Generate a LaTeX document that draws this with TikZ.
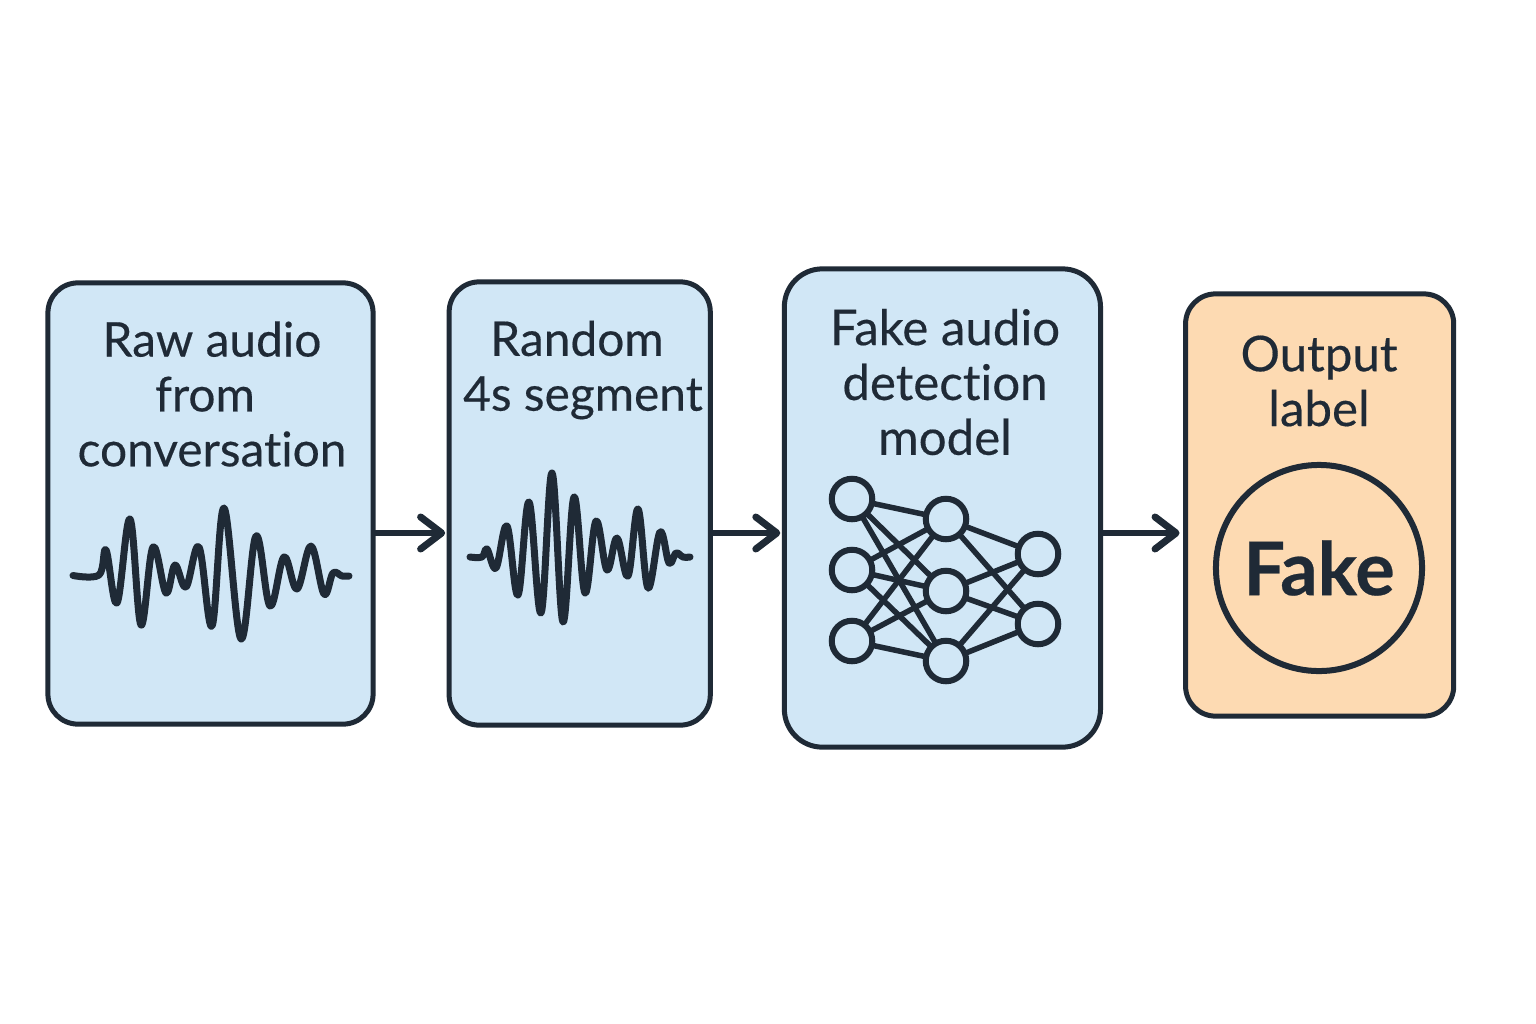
\documentclass[tikz,border=0pt]{standalone}
\usepackage{fontspec}
\setmainfont{Lato}[FakeBold=0.35, Ligatures=NoCommon]
\usepackage{tikz}
\definecolor{inkdark}{RGB}{31, 42, 54}
\definecolor{boxblue}{RGB}{209, 231, 246}
\definecolor{boxorange}{RGB}{253, 218, 178}
\usetikzlibrary{arrows.meta, positioning, calc}

\begin{document}
\begin{tikzpicture}[
    x=0.01cm, y=-0.01cm,
    box/.style={rectangle, draw=inkdark, fill=boxblue, line width=0.5mm,
                outer sep=0pt, rounded corners=0.3cm},
    label/.style={font=\fontsize{13.6pt}{15.6pt}\selectfont, text=inkdark, align=center, inner sep=0pt},
    arrow/.style={-{Straight Barb[round, length=2.1mm, width=3.2mm, line width=0.7mm]}, line width=0.55mm, draw=inkdark},
    wave/.style={inkdark, line width=0.7mm, line cap=round, line join=round, smooth, tension=0.62},
    unit/.style={circle, draw=inkdark, line width=0.6mm, minimum size=0.405cm, inner sep=0pt, outer sep=0pt},
    link/.style={draw=inkdark, line width=0.55mm}
]
    \useasboundingbox (0,0) rectangle (1536,1024);
    \fill[white] (0,0) rectangle (1536,1024);

    \node[box, minimum width=3.25cm, minimum height=4.41cm] (raw) at (210.5,503.5) {};
    \node[box, minimum width=2.61cm, minimum height=4.43cm, right=0.76cm of raw] (segment) {};
    \node[box, minimum width=3.16cm, minimum height=4.78cm, rounded corners=0.38cm, right=0.74cm of segment, yshift=-0.045cm] (model) {};
    \node[box, fill=boxorange, minimum width=2.68cm, minimum height=4.22cm, right=0.85cm of model, yshift=0.03cm] (output) {};

    \node[label] (rawtext) at (212,394) {Raw audio\\from\kern0.14cm\\conversation};
    \node[label] (segtext) at (583,370) {Random\kern0.12cm\\4s segment};
    \node[label, font=\fontsize{14pt}{15.6pt}\selectfont] (modeltext) at (945,382) {Fake audio\\detection\\model};
    \node[label, font=\fontsize{14pt}{15.6pt}\selectfont] (outtext) at (1319,381) {Output\\label};

    \coordinate (arrowline) at (0,533);
    \draw[arrow, shorten >=0.04cm] (raw.east |- arrowline) -- (segment.west |- arrowline);
    \draw[arrow, shorten >=0.04cm] (segment.east |- arrowline) -- (model.west |- arrowline);
    \draw[arrow, shorten >=0.06cm] (model.east |- arrowline) -- (output.west |- arrowline);

    % waveforms
    \draw[wave] plot coordinates {(73,575.5) (99,575) (106,550) (117,603) (130,519) (141,625) (153,547) (166,593) (175,565) (186,587) (199,547) (212,626) (224,508) (241,639) (256,536) (270,606) (284,557) (297,589) (311,546) (324,594) (333,573) (342,576) (349,576)};
    \draw[wave] plot coordinates {(470,557) (482,557) (487,549) (496,568) (507,526) (518,595) (529,502) (541,613) (552,473) (563,622) (574,497) (585,593) (596,521) (607,570) (617,538) (628,576) (638,509) (648,588) (660,532) (669,563) (676,553) (683,557) (690,557)};

    % network
    \node[unit] (a1) at (852,499) {};
    \node[unit] (a2) at (852,570) {};
    \node[unit] (a3) at (852,641) {};
    \node[unit] (b1) at (946,519) {};
    \node[unit] (b2) at (946,591) {};
    \node[unit] (b3) at (946,661) {};
    \node[unit] (c1) at (1038,554) {};
    \node[unit] (c2) at (1038,624) {};
    \foreach \i in {1,2,3} {
        \foreach \j in {1,2,3} {
            \draw[link] (a\i) -- (b\j);
        }
        \foreach \j in {1,2} {
            \draw[link] (b\i) -- (c\j);
        }
    }

    % result
    \node[circle, draw=inkdark, line width=0.6mm, minimum size=2.06cm, inner sep=0pt,
          font=\fontsize{21pt}{24pt}\selectfont\bfseries, text=inkdark] (fake) at (1319,568) {Fake};
\end{tikzpicture}
\end{document}
